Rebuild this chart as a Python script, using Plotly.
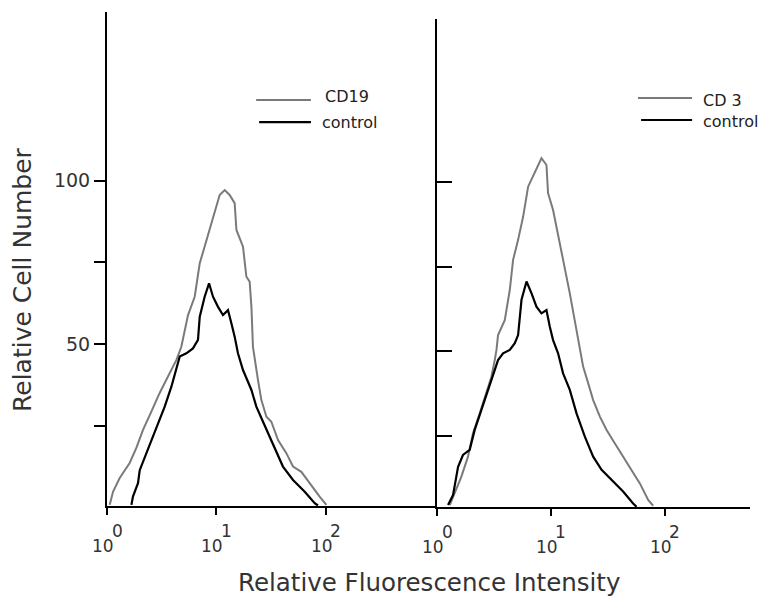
import plotly.graph_objects as go

# ---------------- data (x given as log10 of fluorescence intensity) ----------------
cd19_log = [0.025, 0.055, 0.116, 0.207, 0.268, 0.329, 0.405, 0.481, 0.557, 0.634, 0.679,
            0.740, 0.801, 0.847, 0.922, 0.984, 1.029, 1.075, 1.120, 1.166, 1.182, 1.242,
            1.273, 1.303, 1.319, 1.333, 1.349, 1.379, 1.410, 1.456, 1.501, 1.562, 1.638,
            1.699, 1.775, 1.851, 1.942, 2.004]
cd19_cnt = [0.9, 4.9, 9.1, 13.7, 18.3, 23.8, 29.4, 35.1, 40.1, 45.2, 49.2,
            58.9, 64.5, 74.7, 83.3, 90.0, 95.6, 97.1, 95.6, 93.1, 84.9, 79.8,
            70.6, 69.1, 61.4, 49.2, 45.2, 39.0, 32.9, 27.8, 26.3, 20.7, 16.7,
            12.6, 11.0, 7.5, 3.4, 0.9]

ctrl1_log = [0.223, 0.237, 0.283, 0.299, 0.360, 0.420, 0.466, 0.527, 0.588, 0.634, 0.664,
             0.725, 0.785, 0.831, 0.847, 0.892, 0.932, 0.968, 1.014, 1.059, 1.105, 1.136,
             1.166, 1.196, 1.242, 1.319, 1.364, 1.425, 1.486, 1.532, 1.607, 1.699, 1.806,
             1.897, 1.927]
ctrl1_cnt = [0.9, 3.4, 7.5, 11.5, 16.7, 21.7, 25.8, 30.9, 37.0, 43.1, 46.2,
             47.2, 48.7, 51.3, 58.4, 64.5, 68.6, 64.5, 61.4, 58.9, 60.4, 56.4,
             52.3, 47.2, 42.1, 36.0, 30.9, 26.3, 21.7, 18.7, 12.6, 8.5, 4.9,
             1.4, 0.7]

cd3_log = [0.112, 0.156, 0.214, 0.272, 0.316, 0.375, 0.434, 0.478, 0.507, 0.522, 0.536,
           0.595, 0.639, 0.668, 0.712, 0.756, 0.800, 0.844, 0.873, 0.917, 0.961, 0.975,
           1.019, 1.063, 1.107, 1.166, 1.225, 1.283, 1.327, 1.371, 1.430, 1.489, 1.562,
           1.634, 1.708, 1.781, 1.854, 1.898]
cd3_cnt = [4.6, 8.1, 13.0, 18.9, 25.8, 31.7, 37.6, 42.5, 47.4, 50.4, 54.8,
           59.2, 68.1, 77.0, 82.9, 89.7, 98.6, 101.6, 104.0, 107.0, 105.0, 96.7,
           91.7, 83.8, 77.0, 67.1, 55.8, 45.5, 40.6, 35.6, 30.7, 26.8, 22.8,
           18.9, 15.0, 11.0, 6.1, 4.4]

ctrl2_log = [0.097, 0.141, 0.185, 0.228, 0.287, 0.331, 0.390, 0.448, 0.492, 0.536, 0.580,
             0.639, 0.683, 0.712, 0.742, 0.786, 0.830, 0.873, 0.917, 0.961, 0.990, 1.019,
             1.063, 1.107, 1.166, 1.225, 1.298, 1.371, 1.445, 1.533, 1.634, 1.722, 1.752]
ctrl2_cnt = [4.6, 7.6, 15.9, 19.4, 20.9, 26.8, 32.7, 38.6, 43.5, 47.4, 49.4,
             50.4, 52.4, 54.8, 65.2, 70.6, 67.1, 63.2, 61.2, 62.2, 57.3, 53.3,
             49.4, 43.5, 38.6, 31.7, 24.8, 18.9, 15.0, 12.0, 8.6, 5.1, 4.1]

xtick_vals = [1, 10, 100]
xtick_exps = ["0", "1", "2"]
ytick_vals = [25, 50, 75, 100]
ytick_text = ["", "50", "", "100"]
legend_left = ["CD19", "control"]
legend_right = ["CD 3", "control"]

GRAY = "#7a7a7a"
BLACK = "#000000"
FONT = "DejaVu Sans, Liberation Sans, Arial, sans-serif"
W, H = 765, 596

fig = go.Figure()
fig.add_trace(go.Scatter(x=[10 ** v for v in cd19_log], y=cd19_cnt, mode="lines",
                         line=dict(color=GRAY, width=2), xaxis="x", yaxis="y", name="CD19"))
fig.add_trace(go.Scatter(x=[10 ** v for v in ctrl1_log], y=ctrl1_cnt, mode="lines",
                         line=dict(color=BLACK, width=2.2), xaxis="x", yaxis="y", name="control"))
fig.add_trace(go.Scatter(x=[10 ** v for v in cd3_log], y=cd3_cnt, mode="lines",
                         line=dict(color=GRAY, width=2), xaxis="x2", yaxis="y2", name="CD 3"))
fig.add_trace(go.Scatter(x=[10 ** v for v in ctrl2_log], y=ctrl2_cnt, mode="lines",
                         line=dict(color=BLACK, width=2.2), xaxis="x2", yaxis="y2", name="control"))

common_x = dict(type="log", showline=True, linecolor="black", linewidth=2, ticks="outside",
                ticklen=7, tickwidth=2, tickcolor="black", tickvals=xtick_vals,
                showticklabels=False, showgrid=False, zeroline=False, fixedrange=True)
common_y = dict(showline=True, linecolor="black", linewidth=2, tickwidth=2, tickcolor="black",
                tickvals=ytick_vals, showgrid=False, zeroline=False, fixedrange=True)

fig.update_layout(
    width=W, height=H, margin=dict(l=0, r=0, t=0, b=0),
    paper_bgcolor="white", plot_bgcolor="white", showlegend=False,
    font=dict(family=FONT, color="#333333"),
    xaxis=dict(domain=[107 / W, 437 / W], range=[0, 3.014], anchor="y", **common_x),
    yaxis=dict(domain=[1 - 506 / H, 1 - 12 / H], range=[0.55, 151.5], anchor="x",
               ticks="outside", ticklen=11, ticktext=ytick_text,
               tickfont=dict(size=19, family=FONT, color="#333333"), **common_y),
    xaxis2=dict(domain=[437 / W, 750 / W], range=[0, 2.748], anchor="y2", **common_x),
    yaxis2=dict(domain=[1 - 507 / H, 1 - 19 / H], range=[4.04, 148.1], anchor="x2",
                ticks="inside", ticklen=15, showticklabels=False, **common_y),
)

annotations = []
# x tick labels "10" with raised exponent
for xa, ya in (("x", "y domain"), ("x2", "y2 domain")):
    for lv, e in enumerate(xtick_exps):
        annotations.append(dict(text="10", x=lv, xref=xa, y=0, yref=ya, yanchor="middle",
                                xanchor="center", xshift=-4, yshift=-40, showarrow=False,
                                font=dict(size=17, family=FONT, color="#333333")))
        annotations.append(dict(text=e, x=lv, xref=xa, y=0, yref=ya, yanchor="middle",
                                xanchor="center", xshift=10, yshift=-25, showarrow=False,
                                font=dict(size=17, family=FONT, color="#333333")))

# axis titles
annotations.append(dict(text="Relative Cell Number", x=22 / W, y=1 - 280 / H, xref="paper",
                        yref="paper", textangle=-90, showarrow=False, xanchor="center",
                        yanchor="middle", font=dict(size=25, family=FONT, color="#333333")))
annotations.append(dict(text="Relative Fluorescence Intensity", x=429 / W, y=1 - 582 / H,
                        xref="paper", yref="paper", showarrow=False, xanchor="center",
                        yanchor="middle", font=dict(size=24.5, family=FONT, color="#333333")))

shapes = []
# legends drawn inside each panel
leg_specs = [
    ("x domain", "y domain", legend_left,
     [(0.452, 0.618, 0.822, GRAY, 2), (0.461, 0.618, 0.777, BLACK, 2.2)],
     [(0.655, 0.829), (0.645, 0.777)]),
    ("x2 domain", "y2 domain", legend_right,
     [(0.642, 0.815, 0.838, GRAY, 2), (0.652, 0.815, 0.793, BLACK, 2.2)],
     [(0.845, 0.834), (0.845, 0.789)]),
]
for xr, yr, labels, lines, texts in leg_specs:
    for (x0, x1, y0, col, w) in lines:
        shapes.append(dict(type="line", xref=xr, yref=yr, x0=x0, x1=x1, y0=y0, y1=y0,
                           line=dict(color=col, width=w)))
    for lab, (tx, ty) in zip(labels, texts):
        annotations.append(dict(text=lab, xref=xr, yref=yr, x=tx, y=ty, xanchor="left",
                                yanchor="middle", showarrow=False,
                                font=dict(size=16, family=FONT, color="#222222")))

fig.update_layout(annotations=annotations, shapes=shapes)
fig.write_html("out.html", config={"displayModeBar": False},
               post_script="document.body.style.margin='0px';document.body.style.overflow='hidden';")
